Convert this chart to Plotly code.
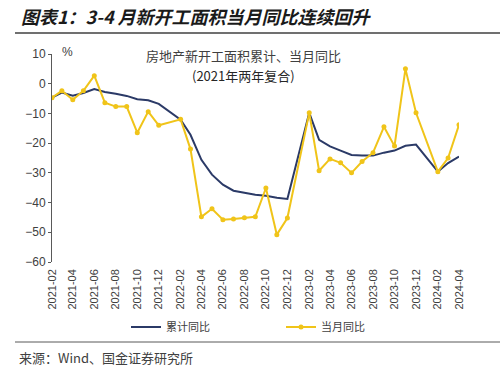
import plotly.graph_objects as go

months = [
    "2021-02", "2021-03", "2021-04", "2021-05", "2021-06", "2021-07", "2021-08", "2021-09", "2021-10", "2021-11", "2021-12",
    "2022-02", "2022-03", "2022-04", "2022-05", "2022-06", "2022-07", "2022-08", "2022-09", "2022-10", "2022-11", "2022-12",
    "2023-02", "2023-03", "2023-04", "2023-05", "2023-06", "2023-07", "2023-08", "2023-09", "2023-10", "2023-11", "2023-12",
    "2024-02", "2024-03", "2024-04",
]
cumulative_yoy = [
    -4.7, -3.0, -4.0, -3.1, -1.8, -2.8, -3.4, -4.1, -5.2, -5.6, -6.8,
    -12.1, -17.2, -25.6, -30.6, -34.0, -36.0, -36.8, -37.4, -37.7, -38.4, -38.8,
    -9.8, -18.9, -21.1, -22.5, -24.0, -24.2, -24.2, -23.2, -22.5, -20.9, -20.5,
    -29.6, -26.7, -24.5,
]
monthly_yoy = [
    -4.7, -2.4, -5.4, -2.4, 2.7, -6.4, -7.7, -7.7, -16.5, -9.4, -14.0,
    -12.0, -22.0, -44.8, -42.1, -45.8, -45.5, -45.1, -44.8, -35.1, -50.8, -45.2,
    -9.8, -29.3, -25.3, -26.6, -30.0, -26.2, -23.2, -14.5, -21.0, 5.0, -9.8,
    -29.6, -25.0, -13.8,
]
y_ticks = [10, 0, -10, -20, -30, -40, -50, -60]

dates = [m + "-01" for m in months]

W, H = 500, 371
L, R, T, B = 52, 41, 54, 109
pw, ph = W - L - R, H - T - B


def px(x):
    return (x - L) / pw


def py(y):
    return (H - B - y) / ph


fig = go.Figure()
fig.add_trace(go.Scatter(
    x=dates, y=cumulative_yoy, name="累计同比", mode="lines",
    line=dict(color="#2B3A67", width=2),
))
fig.add_trace(go.Scatter(
    x=dates, y=monthly_yoy, name="当月同比", mode="lines+markers",
    line=dict(color="#F0C419", width=2),
    marker=dict(color="#F0C419", size=5, symbol="circle"),
))

zero_pos = (0 - (-60)) / 70.0

fig.update_layout(
    width=W, height=H,
    margin=dict(l=L, r=R, t=T, b=B, autoexpand=False),
    paper_bgcolor="white", plot_bgcolor="white",
    font=dict(family="Arial, Liberation Sans, sans-serif", color="#404040"),
    showlegend=True,
    legend=dict(
        orientation="h", x=px(126), xanchor="left", y=py(327), yanchor="middle",
        font=dict(family="Noto Sans CJK SC", size=11, color="#404040"),
        entrywidth=110, entrywidthmode="pixels", itemwidth=30,
        bgcolor="rgba(0,0,0,0)",
    ),
    xaxis=dict(
        type="date", range=[dates[0], dates[-1]],
        tick0=dates[0], dtick="M2", tickformat="%Y-%m", tickangle=-90,
        showgrid=False, zeroline=False, showline=False, ticks="",
        tickfont=dict(size=11, color="#404040"),
        ticklabelstandoff=4,
    ),
    xaxis2=dict(
        type="date", range=[dates[0], dates[-1]], overlaying="x",
        anchor="free", position=zero_pos, side="bottom",
        tick0=dates[0], dtick="M2",
        showgrid=False, zeroline=False, showline=True, linecolor="#7F7F7F", linewidth=1,
        ticks="outside", ticklen=3, tickcolor="#7F7F7F", showticklabels=False,
    ),
    yaxis=dict(
        range=[-60, 10], tickvals=y_ticks, showgrid=False, zeroline=False,
        showline=True, linecolor="#595959", linewidth=1,
        ticks="outside", ticklen=3, tickcolor="#595959",
        tickfont=dict(size=12, color="#404040"),
    ),
)

# header & footer rules
fig.add_shape(type="line", xref="paper", yref="paper", x0=px(15), x1=px(500), y0=py(33), y1=py(33),
              line=dict(color="#404040", width=1.5))
fig.add_shape(type="line", xref="paper", yref="paper", x0=px(15), x1=px(500), y0=py(342), y1=py(342),
              line=dict(color="#595959", width=1))

fig.add_annotation(text="<b>图表1：3-4 月新开工面积当月同比连续回升</b>", xref="paper", yref="paper",
                   x=px(19), y=py(16), xanchor="left", yanchor="middle", showarrow=False,
                   font=dict(family="Noto Sans CJK SC", size=18, color="#1A1A1A", style="italic"))
fig.add_annotation(text="来源：Wind、国金证券研究所", xref="paper", yref="paper",
                   x=px(17), y=py(357), xanchor="left", yanchor="middle", showarrow=False,
                   font=dict(family="Noto Sans CJK SC", size=13, color="#404040"))
fig.add_annotation(text="房地产新开工面积累计、当月同比", xref="paper", yref="paper",
                   x=px(243), y=py(55), xanchor="center", yanchor="middle", showarrow=False,
                   font=dict(family="Noto Sans CJK SC", size=13, color="#404040"))
fig.add_annotation(text="(2021年两年复合)", xref="paper", yref="paper",
                   x=px(243), y=py(75), xanchor="center", yanchor="middle", showarrow=False,
                   font=dict(family="Noto Sans CJK SC", size=13, color="#262626"))
fig.add_annotation(text="%", xref="paper", yref="paper",
                   x=px(67), y=py(52), xanchor="center", yanchor="middle", showarrow=False,
                   font=dict(size=12, color="#404040"))

fig.write_html("out.html", config={"displayModeBar": False},
               post_script="document.body.style.margin='0';document.body.style.overflow='hidden';")
